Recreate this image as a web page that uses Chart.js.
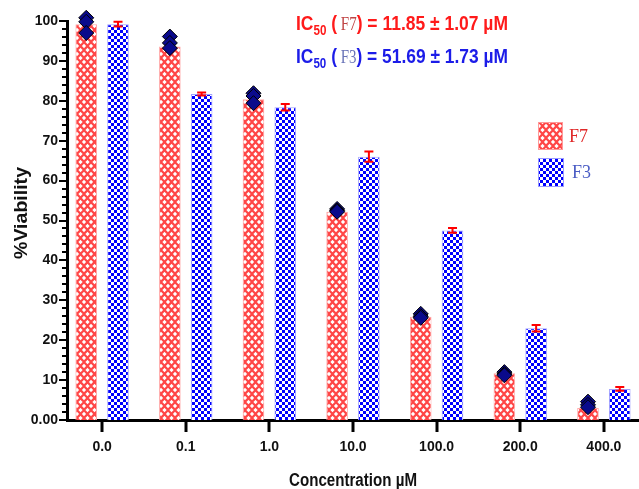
<!DOCTYPE html>
<html><head><meta charset="utf-8">
<script src="https://cdn.jsdelivr.net/npm/chart.js@4.4.0/dist/chart.umd.min.js"></script>
<style>html,body{margin:0;padding:0;background:#fff;}#wrap{width:639px;height:489px;}</style>
</head><body><div id="wrap"><canvas id="c" width="639" height="489"></canvas></div>
<script>
// ---- data ----
const categories = ['0.0', '0.1', '1.0', '10.0', '100.0', '200.0', '400.0'];
const f7Mean = [99.2, 93.6, 80.4, 52.2, 25.9, 11.7, 3.0];
const f7Reps = [
  [100.8, 99.8, 97.0],
  [96.1, 94.5, 93.2],
  [81.9, 81.2, 79.4],
  [52.9, 52.5, 52.2],
  [26.6, 26.0, 25.6],
  [12.0, 11.5, 11.2],
  [4.6, 3.8, 3.2]
];
const f3Mean = [99.2, 81.7, 78.4, 66.0, 47.5, 23.0, 7.8];
const f3Err = [0.6, 0.4, 0.8, 1.3, 0.6, 0.8, 0.5];
const yTickValues = [0, 10, 20, 30, 40, 50, 60, 70, 80, 90, 100];
const seriesNames = ['F7', 'F3'];
const xTitle = 'Concentration µM';
const yTitle = '%Viability';
const ic50Lines = [
  {name: 'F7', value: '11.85 ± 1.07 µM'},
  {name: 'F3', value: '51.69 ± 1.73 µM'}
];

// ---- style ----
const SANS = "'Liberation Sans',Arial,sans-serif";
const SERIF = "'Liberation Serif','Times New Roman',serif";
const CAT_PCT = 0.76, BAR_PCT = 0.68;

function makeRedPattern() {
  const c = document.createElement('canvas'); c.width = 7; c.height = 8;
  const g = c.getContext('2d');
  g.fillStyle = '#FF4646'; g.fillRect(0, 0, 7, 8);
  g.fillStyle = '#ffffff';
  const hole = (x, y) => { g.beginPath(); g.moveTo(x, y - 2.2); g.lineTo(x + 2.1, y); g.lineTo(x, y + 2.2); g.lineTo(x - 2.1, y); g.closePath(); g.fill(); };
  hole(3.5, 2); hole(0, 6); hole(7, 6); hole(0, -2); hole(7, -2); hole(3.5, 10);
  return g.createPattern(c, 'repeat');
}
function makeBluePattern() {
  const c = document.createElement('canvas'); c.width = 6; c.height = 6;
  const g = c.getContext('2d');
  g.fillStyle = '#ffffff'; g.fillRect(0, 0, 6, 6);
  g.fillStyle = '#0000FF'; g.fillRect(0, 0, 3, 3); g.fillRect(3, 3, 3, 3);
  return g.createPattern(c, 'repeat');
}
const redPat = makeRedPattern();
const bluePat = makeBluePattern();

const scatterData = [];
f7Reps.forEach((reps, i) => reps.forEach(v => scatterData.push({x: i - CAT_PCT / 4, y: v})));

function condensedText(ctx, text, x, y, font, targetW, rotate) {
  ctx.save();
  ctx.font = font;
  const w = ctx.measureText(text).width;
  ctx.translate(x, y);
  if (rotate) ctx.rotate(-Math.PI / 2);
  ctx.scale(targetW / w, 1);
  ctx.textAlign = 'center';
  ctx.fillText(text, 0, 0);
  ctx.restore();
}

const extras = {
  id: 'extras',
  afterDatasetsDraw(chart) {
    const ctx = chart.ctx, ys = chart.scales.y;
    const meta = chart.getDatasetMeta(2);
    ctx.save();
    ctx.strokeStyle = '#FF0000'; ctx.lineWidth = 2;
    meta.data.forEach((bar, i) => {
      const x = bar.x;
      const yt = ys.getPixelForValue(f3Mean[i] + f3Err[i]);
      const yb = ys.getPixelForValue(f3Mean[i] - f3Err[i]);
      ctx.beginPath();
      ctx.moveTo(x, yt); ctx.lineTo(x, yb);
      ctx.moveTo(x - 4.5, yt); ctx.lineTo(x + 4.5, yt);
      ctx.moveTo(x - 4.5, yb); ctx.lineTo(x + 4.5, yb);
      ctx.stroke();
    });
    ctx.restore();
  },
  afterDraw(chart) {
    const ctx = chart.ctx, ys = chart.scales.y, xs = chart.scales.x;
    const ca = chart.chartArea;
    ctx.save();
    // y tick marks (major + minor)
    ctx.strokeStyle = '#000'; ctx.lineWidth = 2;
    for (let v = 0; v <= 100; v += 2) {
      const y = Math.round(ys.getPixelForValue(v));
      const len = (v % 10 === 0) ? 8 : 5;
      ctx.beginPath(); ctx.moveTo(ca.left - len, y); ctx.lineTo(ca.left, y); ctx.stroke();
    }
    // x tick marks
    ctx.lineWidth = 3;
    categories.forEach((c, i) => {
      const x = Math.round(xs.getPixelForValue(i));
      ctx.beginPath(); ctx.moveTo(x, ca.bottom); ctx.lineTo(x, ca.bottom + 12); ctx.stroke();
    });
    // axis titles (condensed bold)
    ctx.fillStyle = '#111'; ctx.textBaseline = 'alphabetic';
    condensedText(ctx, xTitle, (ca.left + ca.right) / 2, 486, 'bold 18px ' + SANS, 128, false);
    ctx.textBaseline = 'middle';
    condensedText(ctx, yTitle, 22, 213, 'bold 19px ' + SANS, 92, true);
    // legend
    const sw = [[538, 122, 25, 28, redPat, '#FF9A9A', '#E02828'], [538, 158, 26, 29, bluePat, '#9A9AFF', '#4A5CC4']];
    sw.forEach((s, k) => {
      ctx.fillStyle = s[4]; ctx.fillRect(s[0], s[1], s[2], s[3]);
      ctx.strokeStyle = s[5]; ctx.lineWidth = 1; ctx.strokeRect(s[0] + 0.5, s[1] + 0.5, s[2] - 1, s[3] - 1);
      ctx.fillStyle = s[6]; ctx.font = '18px ' + SERIF; ctx.textBaseline = 'alphabetic'; ctx.textAlign = 'left';
      ctx.fillText(seriesNames[k], s[0] + s[2] + 6 + k * 2, s[1] + 20);
    });
    // IC50 annotation (condensed to the reference width)
    const colors = [['#FF1A1A', '#C04545'], ['#1C1CE8', '#6A74B8']];
    ic50Lines.forEach((ln, k) => {
      const base = 30 + k * 33;
      const parts = [
        {t: 'IC', f: 'bold 21px ' + SANS, c: colors[k][0], dy: 0},
        {t: '50', f: 'bold 14px ' + SANS, c: colors[k][0], dy: 5},
        {t: ' (', f: 'bold 21px ' + SANS, c: colors[k][0], dy: 0},
        {t: ' ' + ln.name, f: '18px ' + SERIF, c: colors[k][1], dy: 0},
        {t: ')', f: 'bold 21px ' + SANS, c: colors[k][0], dy: 0},
        {t: ' = ' + ln.value, f: 'bold 21px ' + SANS, c: colors[k][0], dy: 0}
      ];
      let total = 0;
      parts.forEach(p => { ctx.font = p.f; total += ctx.measureText(p.t).width; });
      ctx.save();
      ctx.translate(296, 0);
      ctx.scale(212 / total, 1);
      let x = 0;
      parts.forEach(p => {
        ctx.font = p.f; ctx.fillStyle = p.c; ctx.textBaseline = 'alphabetic'; ctx.textAlign = 'left';
        ctx.fillText(p.t, x, base + p.dy);
        x += ctx.measureText(p.t).width;
      });
      ctx.restore();
    });
    ctx.restore();
  }
};

new Chart(document.getElementById('c'), {
  type: 'bar',
  data: {
    datasets: [
      {
        type: 'scatter', label: 'F7 replicates', data: scatterData, order: -1, clip: false,
        pointStyle: 'rectRot', pointRadius: 7.5, backgroundColor: '#0A0A8C', borderColor: '#000000', borderWidth: 1
      },
      {
        label: 'F7', data: f7Mean.map((v, i) => ({x: i, y: v})),
        backgroundColor: redPat, borderColor: '#FFA8A8', borderWidth: 1,
        categoryPercentage: CAT_PCT, barPercentage: BAR_PCT
      },
      {
        label: 'F3', data: f3Mean.map((v, i) => ({x: i, y: v})),
        backgroundColor: bluePat, borderColor: '#A0A0FF', borderWidth: 1,
        categoryPercentage: CAT_PCT, barPercentage: BAR_PCT
      }
    ]
  },
  options: {
    responsive: false, animation: false,
    layout: {autoPadding: false, padding: {top: 21, right: 0, left: 0, bottom: 0}},
    plugins: {legend: {display: false}, tooltip: {enabled: false}},
    scales: {
      x: {
        type: 'linear', min: -0.42, max: 6.42, z: 1, offset: false,
        afterFit(s) { s.height = 69; s.paddingLeft = 0; s.paddingRight = 0; },
        afterBuildTicks(s) { s.ticks = categories.map((c, i) => ({value: i})); },
        grid: {display: false, drawTicks: false},
        border: {color: '#000', width: 3},
        ticks: {
          autoSkip: false, maxRotation: 0, padding: 19, color: '#111',
          font: {family: SANS, size: 14, weight: 'bold'},
          callback: (v) => categories[v]
        },
        title: {display: false}
      },
      y: {
        min: 0, max: 100, z: 1,
        afterFit(s) { s.width = 67; s.paddingTop = 0; s.paddingBottom = 0; },
        afterBuildTicks(s) { s.ticks = yTickValues.map(v => ({value: v})); },
        grid: {display: false, drawTicks: false},
        border: {color: '#000', width: 3},
        ticks: {
          padding: 9, color: '#111',
          font: {family: SANS, size: 14, weight: 'bold'},
          callback: (v) => v === 0 ? '0.00' : String(v)
        },
        title: {display: false}
      }
    }
  },
  plugins: [extras]
});
</script>
</body></html>
